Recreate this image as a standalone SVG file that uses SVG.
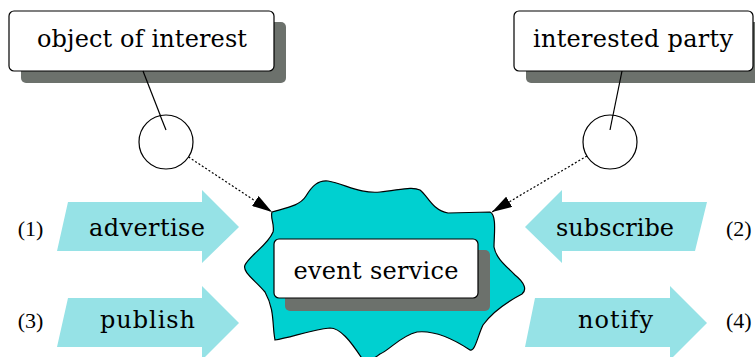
<svg xmlns="http://www.w3.org/2000/svg" width="755" height="357" viewBox="0 0 755 357">
<style>
text{font-family:"DejaVu Serif","Liberation Serif",serif;font-size:24px;fill:#000}
text.num{font-family:"Liberation Serif","DejaVu Serif",serif;font-size:22px}
.box{fill:#fff;stroke:#000;stroke-width:1.2}
.shadow{fill:#6c716c}
.arrow{fill:#96e2e6}
.circ{fill:#fff;stroke:#000;stroke-width:1.2}
.solid{stroke:#000;stroke-width:1.2;fill:none}
.dot{stroke:#000;stroke-width:1.2;fill:none;stroke-dasharray:2 2}
</style>
<defs>
<marker id="ah" viewBox="0 0 20 12" refX="20" refY="6" markerWidth="20" markerHeight="12" markerUnits="userSpaceOnUse" orient="auto">
<path d="M0,0 L20,6 L0,12 Z" fill="#000"/>
</marker>
</defs>
<g id="cloud">
<path d="M272,212 C285,208 300,206 306,196 C312,186 318,180 328,181 C345,184 360,194 380,192 C400,190 412,186 420,190 C428,196 432,210 448,213 L490,212 C497,215 494,235 494,247 C496,258 505,265 515,275 C525,283 527,290 522,294 C505,303 490,315 483,325 C478,335 475,352 470,350 C455,340 435,330 417,332 C400,336 390,350 380,354 C372,360 368,362 363,360 C350,340 340,328 330,328 C310,330 290,338 275,340 C272,325 275,310 265,292 C255,280 242,272 245,265 C250,255 268,245 273,232 C275,225 270,218 272,212 Z" fill="#00d0d0" stroke="#000" stroke-width="1.2"/>
</g>
<g id="event-service">
<rect class="shadow" x="285" y="250" width="205" height="61" rx="5"/>
<rect class="box" x="274" y="239" width="204" height="59" rx="5"/>
<text x="376" y="279" text-anchor="middle" textLength="165" lengthAdjust="spacing">event service</text>
</g>
<g id="object-of-interest">
<rect class="shadow" x="21" y="22" width="265" height="61" rx="5"/>
<rect class="box" x="9" y="11" width="265" height="60" rx="5"/>
<text x="142" y="47" text-anchor="middle" textLength="210" lengthAdjust="spacing">object of interest</text>
</g>
<g id="interested-party">
<rect class="shadow" x="526" y="22" width="240" height="61" rx="5"/>
<rect class="box" x="514" y="11" width="239" height="60" rx="5"/>
<text x="633" y="47" text-anchor="middle" textLength="200" lengthAdjust="spacing">interested party</text>
</g>
<g id="connectors">
<line class="solid" x1="143" y1="71" x2="166" y2="130"/>
<line class="solid" x1="622" y1="71" x2="610" y2="130"/>
<line class="dot" x1="188.5" y1="157" x2="272" y2="212" marker-end="url(#ah)"/>
<line class="dot" x1="587" y1="156" x2="492" y2="212" marker-end="url(#ah)"/>
</g>
<g id="circle-left">
<circle class="circ" cx="166" cy="142" r="27"/>
<line class="solid" x1="160" y1="115" x2="166" y2="130"/>
</g>
<g id="circle-right">
<circle class="circ" cx="610" cy="142" r="27"/>
<line class="solid" x1="613" y1="115" x2="610" y2="130"/>
</g>
<g id="advertise">
<polygon class="arrow" points="68,202 202,202 202,190 239,227 202,263 202,251 57,251"/>
<text x="147" y="236" text-anchor="middle" textLength="116" lengthAdjust="spacing">advertise</text>
<text class="num" x="30.5" y="236" text-anchor="middle">(1)</text>
</g>
<g id="publish">
<polygon class="arrow" points="68,298 202,298 202,286 239,323 202,360 202,347 57,347"/>
<text x="147.5" y="328" text-anchor="middle" textLength="95" lengthAdjust="spacing">publish</text>
<text class="num" x="30.5" y="328" text-anchor="middle">(3)</text>
</g>
<g id="subscribe">
<polygon class="arrow" points="525,227 562,190 562,202 707,202 695,251 562,251 562,263"/>
<text x="615" y="236" text-anchor="middle" textLength="118" lengthAdjust="spacing">subscribe</text>
<text class="num" x="726" y="236">(2)</text>
</g>
<g id="notify">
<polygon class="arrow" points="535,298 670,298 670,286 707,323 670,360 670,347 525,347"/>
<text x="615.5" y="328" text-anchor="middle" textLength="75" lengthAdjust="spacing">notify</text>
<text class="num" x="726" y="328">(4)</text>
</g>
</svg>
